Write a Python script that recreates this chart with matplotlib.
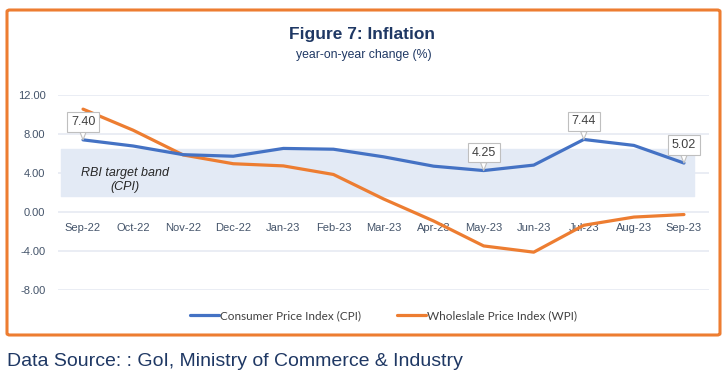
import matplotlib
matplotlib.use('Agg')
import matplotlib.pyplot as plt
from matplotlib.patches import FancyBboxPatch

months = ['Sep-22', 'Oct-22', 'Nov-22', 'Dec-22', 'Jan-23', 'Feb-23', 'Mar-23',
          'Apr-23', 'May-23', 'Jun-23', 'Jul-23', 'Aug-23', 'Sep-23']
cpi = [7.40, 6.77, 5.88, 5.72, 6.52, 6.44, 5.66, 4.70, 4.25, 4.81, 7.44, 6.83, 5.02]
wpi = [10.55, 8.39, 5.85, 4.95, 4.73, 3.85, 1.34, -0.92, -3.48, -4.12, -1.36, -0.52, -0.26]
band_low, band_high = 1.6, 6.5
labelled = [0, 8, 10, 12]
yticks = [-8, -4, 0, 4, 8, 12]

navy = '#1F3864'
blue = '#4472C4'
orange = '#ED7D31'

plt.rcParams['font.family'] = ['Liberation Sans', 'DejaVu Sans']

fig = plt.figure(figsize=(7.25, 3.92), dpi=100)

# orange frame round the chart
frame = FancyBboxPatch((7 / 725, 1 - 335 / 392), 713 / 725, 325 / 392,
                       boxstyle='round,pad=0,rounding_size=0.004',
                       transform=fig.transFigure, facecolor='white',
                       edgecolor=orange, linewidth=2.2, zorder=-5)
fig.patches.append(frame)

ax = fig.add_axes([58 / 725, 1 - 290 / 392, 651 / 725, 195 / 392])
ax.set_zorder(2)
ax.set_facecolor('none')
x = list(range(len(months)))

# RBI target band
ax.fill_between([-0.45, 12.2], band_low, band_high, color='#E3EAF5', zorder=1)
ax.text(0.84, 3.3, 'RBI target band\n(CPI)', style='italic', fontsize=9,
        color='#262626', ha='center', va='center', linespacing=1.2, zorder=2)

ax.plot(x, cpi, color=blue, lw=2.3, label='Consumer Price Index (CPI)', zorder=4,
        solid_capstyle='round')
ax.plot(x, wpi, color=orange, lw=2.3, label='Wholeslale Price Index (WPI)', zorder=3,
        solid_capstyle='round')

for i in labelled:
    ax.annotate(f'{cpi[i]:.2f}', xy=(i, cpi[i]), xytext=(0, 13),
                textcoords='offset points', ha='center', va='center',
                fontsize=9, color='#404040', zorder=6,
                bbox=dict(boxstyle='square,pad=0.3', fc='white', ec='#BFBFBF', lw=0.8),
                arrowprops=dict(arrowstyle='wedge,tail_width=0.5', fc='white',
                                ec='#BFBFBF', lw=0.8, shrinkA=0, shrinkB=0))

ax.set_xlim(-0.5, 12.5)
ax.set_ylim(-8, 12)
ax.set_yticks(yticks)
ax.set_yticklabels([f'{v:.2f}' for v in yticks])
ax.set_xticks(x)
ax.set_xticklabels(months)
ax.grid(axis='y', color='#E6EAF2', lw=1.2, zorder=0)
ax.set_axisbelow(True)
for s in ['top', 'right', 'left']:
    ax.spines[s].set_visible(False)
ax.spines['bottom'].set_position(('data', 0))
ax.spines['bottom'].set_visible(False)
ax.tick_params(axis='y', length=0, pad=9, labelsize=8, labelcolor='#44546A')
ax.tick_params(axis='x', length=0, pad=8, labelsize=8, labelcolor='#44546A')

leg = ax.legend(loc='center', bbox_to_anchor=(0.5, -0.13), ncol=2, frameon=False,
                prop={'family': 'Lato', 'size': 8.5}, handlelength=2.5,
                handletextpad=0.1, columnspacing=3)
for t in leg.get_texts():
    t.set_color('#404040')

fig.text(362 / 725, 1 - 35 / 392, 'Figure 7: Inflation', ha='center', va='center',
         fontsize=12.5, fontweight='bold', color=navy)
fig.text(364 / 725, 1 - 55 / 392, 'year-on-year change (%)', ha='center', va='center',
         fontsize=8.8, color=navy)
fig.text(7 / 725, 1 - 361 / 392, 'Data Source: : GoI, Ministry of Commerce & Industry',
         ha='left', va='center', fontsize=14.0, color=navy)

fig.savefig('out.png', dpi=100)
